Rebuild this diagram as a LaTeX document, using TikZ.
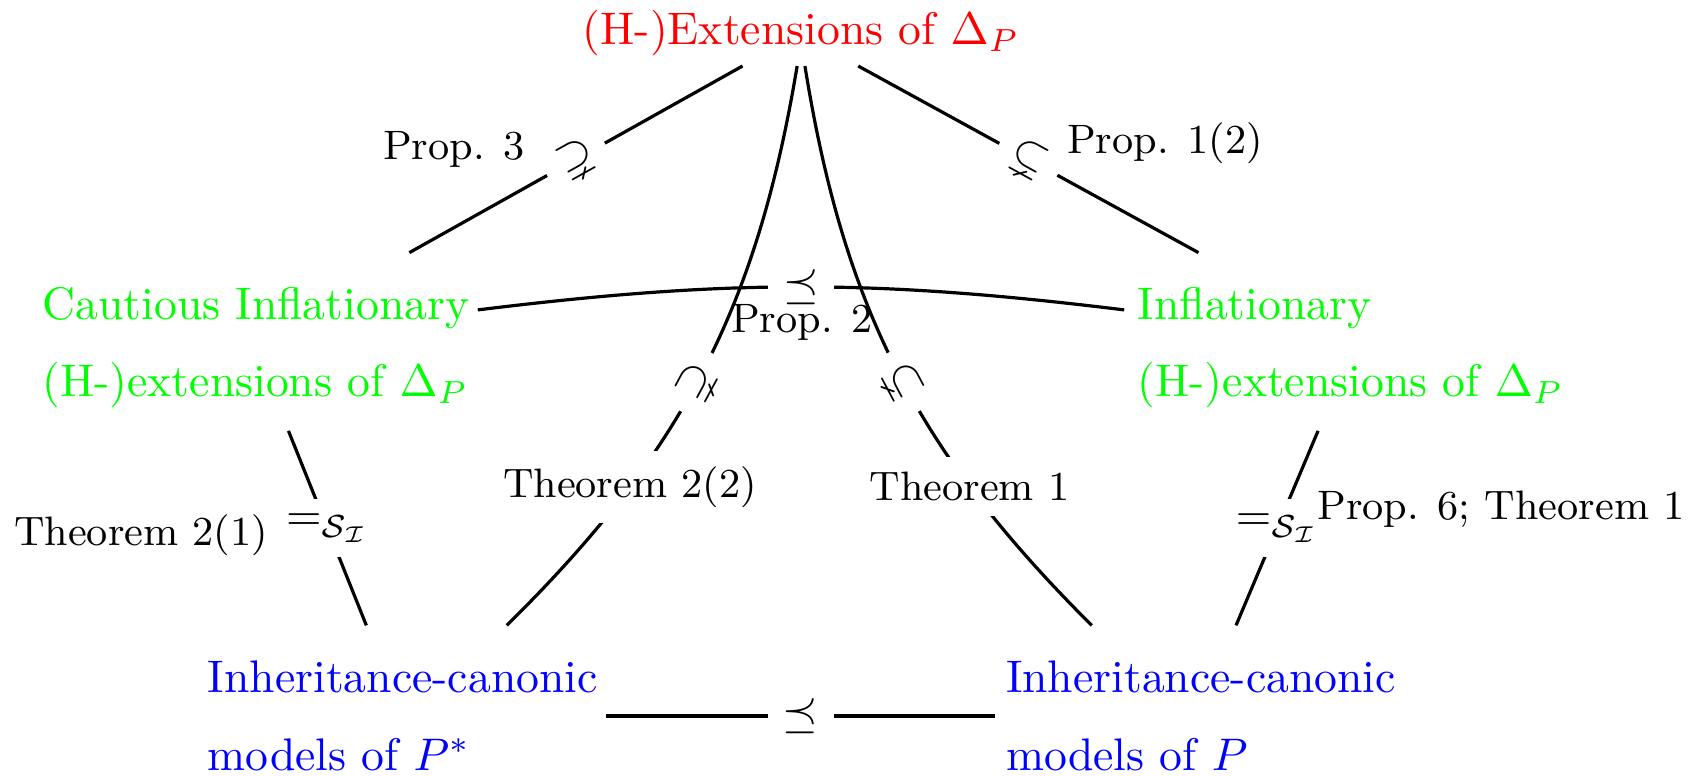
\documentclass[tikz,border=0pt]{standalone}
\usepackage{amssymb}
\usetikzlibrary{positioning}

\begin{document}
\begin{tikzpicture}[
    cls/.style={align=left, inner sep=3.33pt},
    rel/.style={fill=white, inner sep=3.33pt},
    lbl/.style={font=\small},
    link/.style={line width=0.7pt}
]
\useasboundingbox (0,0) rectangle (13.108,5.969);

% Classes of extensions and models
\node[cls, red, anchor=base] (ext) at (6.162,5.623) {(H-)Extensions of $\Delta_P$};
\node[cls, green, anchor=west] (caut) at (0.203,3.295) {Cautious Inflationary\\[5pt](H-)extensions of $\Delta_P$};
\node[cls, green, anchor=west] (infl) at (8.628,3.295) {Inflationary\\[5pt](H-)extensions of $\Delta_P$};
\node[cls, blue, anchor=west] (icPs) at (1.475,0.4615) {Inheritance-canonic\\[5pt]models of $P^*$};
\node[cls, blue, anchor=west] (icP) at (7.615,0.4615) {Inheritance-canonic\\[5pt]models of $P$};

% Top lines
\draw[link] ([xshift=-4.5mm,yshift=0.5mm]ext.south) -- node[rel, sloped] {$\supsetneq$} ([xshift=11.8mm,yshift=1.4mm]caut.north);
\draw[link] ([xshift=4.4mm,yshift=0.5mm]ext.south) -- node[rel, sloped] {$\subsetneq$} ([xshift=-11.7mm,yshift=1.4mm]infl.north);

% Middle curves
\draw[link] ([xshift=-0.3mm,yshift=0.5mm]ext.south) to[bend left=18]
    node[rel, sloped, pos=0.52] {$\supsetneq$}
    node[rel, lbl, pos=0.725] (t22) {Theorem 2(2)}
    ([xshift=8mm,yshift=1.5mm]icPs.north);
\draw[link] ([xshift=0.3mm,yshift=0.5mm]ext.south) to[bend right=18]
    node[rel, sloped, pos=0.52] {$\subsetneq$}
    node[rel, lbl, pos=0.725] (t1) {Theorem 1}
    ([xshift=-8.4mm,yshift=1.5mm]icP.north);

% Inflationary vs cautious
\draw[link] ([xshift=-0.6mm,yshift=2.9mm]caut.east) to[bend left=7] node[rel] (pcmp) {$\preceq$} ([xshift=0.2mm,yshift=2.9mm]infl.west);

% Down to the models
\draw[link] ([xshift=2.5mm,yshift=-0.5mm]caut.south) -- node[rel] (eqL) {$=_{\mathcal{S}_\mathcal{I}}$} ([xshift=-2.8mm,yshift=1.5mm]icPs.north);
\draw[link] ([xshift=-2.5mm,yshift=-0.5mm]infl.south) -- node[rel] (eqR) {$=_{\mathcal{S}_\mathcal{I}}$} ([xshift=2.7mm,yshift=1.5mm]icP.north);
\draw[link] ([xshift=-0.6mm]icPs.east) -- node[rel] (mcmp) {$\preceq$} ([xshift=0.4mm]icP.west);

% Labels
\node[lbl] (p3) at (3.492,4.823) {Prop. 3};
\node[lbl] (p12) at (8.962,4.869) {Prop. 1(2)};
\node[lbl] (p2) at (6.169,3.485) {Prop. 2};
\node[lbl] (t21) at (1.085,1.854) {Theorem 2(1)};
\node[lbl] (p6) at (11.546,2.054) {Prop. 6; Theorem 1};

\end{tikzpicture}
\end{document}
